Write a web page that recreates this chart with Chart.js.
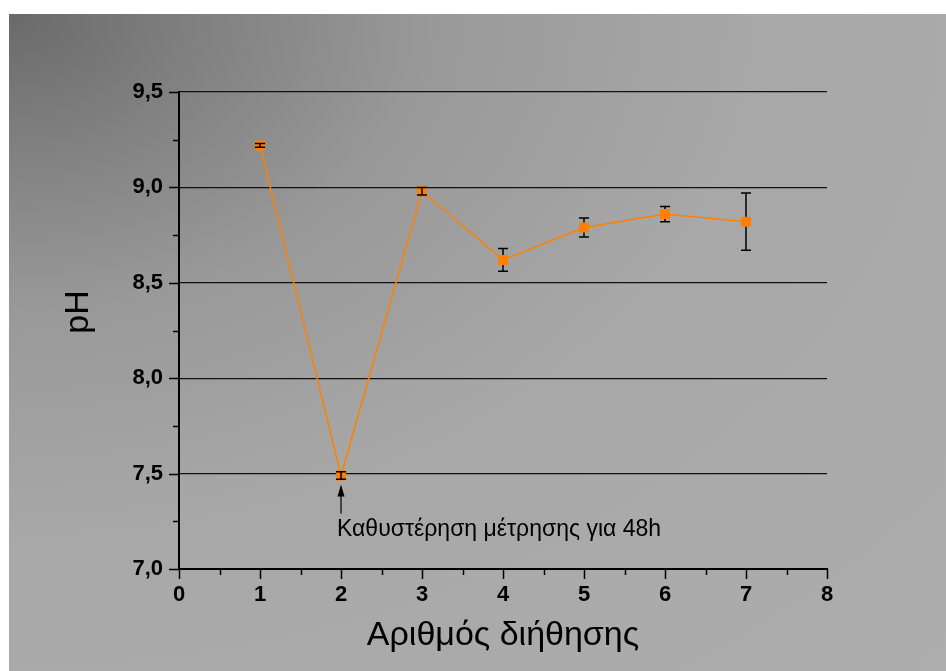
<!DOCTYPE html>
<html>
<head>
<meta charset="utf-8">
<script src="https://cdn.jsdelivr.net/npm/chart.js@4"></script>
<style>
  html, body { margin: 0; padding: 0; background: #fff; }
  canvas { display: block; }
</style>
</head>
<body>
<canvas id="phChart" width="946" height="671"></canvas>
<script>
// values
const runs = [1, 2, 3, 4, 5, 6, 7];
const phMean = [9.22, 7.49, 8.98, 8.62, 8.79, 8.86, 8.82];
const phErr = [0.01, 0.02, 0.02, 0.06, 0.05, 0.04, 0.15];
const xTitle = "Αριθμός διήθησης";
const yTitle = "pH";
const noteText = "Καθυστέρηση μέτρησης για 48h";
const noteRun = 2;

const orange = "#ff8000";
Chart.defaults.font.family = "'Liberation Sans', Arial, sans-serif";

// grey backdrop, dark in the top left corner
const backdrop = {
  id: "backdrop",
  beforeDraw(chart) {
    const c = chart.ctx;
    const W = 937, H = 657;
    c.save();
    c.fillStyle = "#fff";
    c.fillRect(0, 0, chart.width, chart.height);
    c.translate(9, 14);
    c.scale(W, H);
    const g = c.createRadialGradient(0, 0, 0, 0, 0, 1.42);
    g.addColorStop(0, "#6a6a6a");
    g.addColorStop(0.19 / 1.42, "#7f7f7f");
    g.addColorStop(0.45 / 1.42, "#999999");
    g.addColorStop(0.8 / 1.42, "#a8a8a8");
    g.addColorStop(1, "#adadad");
    c.fillStyle = g;
    c.fillRect(0, 0, 1, 1);
    c.restore();
  }
};

// error bars, minor/major ticks, arrow note and the y title
const extras = {
  id: "extras",
  afterDatasetsDraw(chart) {
    const c = chart.ctx;
    const xs = chart.scales.x, ys = chart.scales.y;
    c.save();

    // error bars (start at the edge of the square like Origin does)
    c.strokeStyle = "#000";
    c.lineWidth = 1.5;
    const half = 5;
    runs.forEach((r, i) => {
      const px = xs.getPixelForValue(r);
      const py = ys.getPixelForValue(phMean[i]);
      const top = ys.getPixelForValue(phMean[i] + phErr[i]);
      const bot = ys.getPixelForValue(phMean[i] - phErr[i]);
      c.beginPath();
      if (py - top > half) {
        c.moveTo(px, top); c.lineTo(px, py - half);
        c.moveTo(px, py + half); c.lineTo(px, bot);
      } else {
        c.moveTo(px, top); c.lineTo(px, bot);
      }
      c.moveTo(px - 5, top); c.lineTo(px + 5, top);
      c.moveTo(px - 5, bot); c.lineTo(px + 5, bot);
      c.stroke();
    });

    // axis ticks
    c.lineWidth = 1.5;
    c.beginPath();
    for (let v = 7; v <= 9.5001; v += 0.25) {
      const p = Math.round(ys.getPixelForValue(v)) + 0.5;
      const major = Math.abs(v * 2 - Math.round(v * 2)) < 1e-6;
      c.moveTo(xs.left, p);
      c.lineTo(xs.left - (major ? 10 : 6), p);
    }
    for (let v = 0; v <= 8.0001; v += 0.5) {
      const p = Math.round(xs.getPixelForValue(v)) + 0.5;
      const major = Math.abs(v - Math.round(v)) < 1e-6;
      c.moveTo(p, ys.bottom);
      c.lineTo(p, ys.bottom + (major ? 10 : 6));
    }
    c.stroke();

    // arrow + note under run 2
    const ni = runs.indexOf(noteRun);
    const ax = xs.getPixelForValue(noteRun);
    const ay = ys.getPixelForValue(phMean[ni]);
    c.fillStyle = "#000";
    c.lineWidth = 1.2;
    c.beginPath();
    c.moveTo(ax, ay + 20);
    c.lineTo(ax, ay + 38);
    c.stroke();
    c.beginPath();
    c.moveTo(ax, ay + 9);
    c.lineTo(ax - 3.5, ay + 21);
    c.lineTo(ax + 3.5, ay + 21);
    c.closePath();
    c.fill();
    c.font = "23px 'Liberation Sans', Arial, sans-serif";
    c.textAlign = "left";
    c.textBaseline = "alphabetic";
    c.fillText(noteText, ax - 4, ay + 60);

    // y title
    c.font = "34px 'Liberation Sans', Arial, sans-serif";
    c.translate(88, 312);
    c.rotate(-Math.PI / 2);
    c.textAlign = "center";
    c.fillText(yTitle, 0, 0);
    c.restore();
  }
};

const dataset = {
  data: runs.map((r, i) => ({ x: r, y: phMean[i] })),
  borderColor: orange,
  backgroundColor: orange,
  borderWidth: 1.5,
  tension: 0,
  pointStyle: "rect",
  pointRadius: 7,
  pointBorderWidth: 0,
  pointBackgroundColor: orange
};

const options = {
  responsive: false,
  animation: false,
  layout: {
    padding: { left: 0, top: 92, right: 119, bottom: 0 }
  },
  plugins: {
    legend: { display: false },
    tooltip: { enabled: false }
  },
  scales: {
    x: {
      type: "linear",
      min: 0,
      max: 8,
      ticks: {
        stepSize: 1,
        color: "#000",
        padding: 13,
        font: { size: 22, weight: "bold" }
      },
      grid: { drawOnChartArea: false, drawTicks: false },
      border: { color: "#000", width: 2 },
      title: {
        display: true,
        text: xTitle,
        color: "#000",
        font: { size: 34 },
        padding: { top: 0, bottom: 15 }
      },
      afterFit: (s) => { s.height = 102; }
    },
    y: {
      min: 7,
      max: 9.5,
      ticks: {
        stepSize: 0.5,
        color: "#000",
        padding: 16,
        font: { size: 22, weight: "bold" },
        callback: (v) => v.toFixed(1).replace(".", ",")
      },
      grid: { color: "#111", lineWidth: 1.3, drawTicks: false },
      border: { color: "#000", width: 2 },
      afterFit: (s) => { s.width = 179; }
    }
  }
};

const phChart = new Chart(document.getElementById("phChart"), {
  type: "line",
  data: { datasets: [dataset] },
  options: options,
  plugins: [backdrop, extras]
});
</script>
</body>
</html>
